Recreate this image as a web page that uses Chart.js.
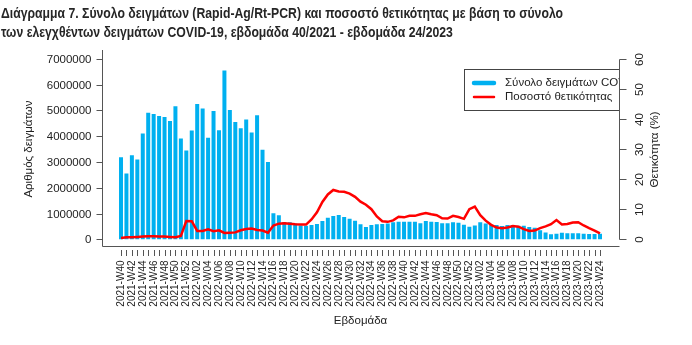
<!DOCTYPE html>
<html>
<head>
<meta charset="utf-8">
<script src="https://cdn.jsdelivr.net/npm/chart.js@4.4.1/dist/chart.umd.min.js"></script>
<style>
html,body{margin:0;padding:0;background:#fff;}
#wrap{width:692px;height:345px;position:relative;}
</style>
</head>
<body>
<div id="wrap"><canvas id="c"></canvas></div>
<script>
const titleLines = [
  "Διάγραμμα 7. Σύνολο δειγμάτων (Rapid-Ag/Rt-PCR) και ποσοστό θετικότητας με βάση το σύνολο",
  "των ελεγχθέντων δειγμάτων COVID-19, εβδομάδα 40/2021 - εβδομάδα 24/2023"
];
const weeks = [
  "2021-W40","2021-W41","2021-W42","2021-W43","2021-W44","2021-W45","2021-W46","2021-W47","2021-W48","2021-W49","2021-W50","2021-W51","2021-W52",
  "2022-W01","2022-W02","2022-W03","2022-W04","2022-W05","2022-W06","2022-W07","2022-W08","2022-W09","2022-W10","2022-W11","2022-W12","2022-W13",
  "2022-W14","2022-W15","2022-W16","2022-W17","2022-W18","2022-W19","2022-W20","2022-W21","2022-W22","2022-W23","2022-W24","2022-W25","2022-W26",
  "2022-W27","2022-W28","2022-W29","2022-W30","2022-W31","2022-W32","2022-W33","2022-W34","2022-W35","2022-W36","2022-W37","2022-W38","2022-W39",
  "2022-W40","2022-W41","2022-W42","2022-W43","2022-W44","2022-W45","2022-W46","2022-W47","2022-W48","2022-W49","2022-W50","2022-W51","2022-W52",
  "2023-W01","2023-W02","2023-W03","2023-W04","2023-W05","2023-W06","2023-W07","2023-W08","2023-W09","2023-W10","2023-W11","2023-W12","2023-W13",
  "2023-W14","2023-W15","2023-W16","2023-W17","2023-W18","2023-W19","2023-W20","2023-W21","2023-W22","2023-W23","2023-W24"
];
const samples = [
  3180000,2550000,3260000,3090000,4100000,4910000,4860000,4780000,4740000,4590000,5160000,3910000,3440000,
  4220000,5250000,5070000,3940000,4980000,4230000,6550000,5010000,4550000,4310000,4650000,4140000,4810000,
  3470000,3000000,1010000,930000,670000,660000,610000,540000,530000,550000,590000,710000,840000,
  900000,940000,860000,800000,720000,580000,480000,550000,580000,590000,610000,660000,680000,
  680000,680000,680000,620000,710000,680000,670000,620000,620000,660000,640000,560000,490000,
  540000,660000,610000,560000,550000,520000,550000,550000,530000,530000,480000,450000,350000,
  260000,200000,220000,250000,230000,230000,230000,220000,210000,210000,220000
];
const positivity = [
  0.4,0.7,0.7,0.8,0.9,1.0,1.0,0.9,0.9,0.8,0.7,1.1,6.1,
  6.0,2.8,2.8,3.3,2.7,3.0,2.1,2.2,2.3,3.0,3.4,3.6,3.1,
  2.9,2.2,4.6,5.2,5.3,5.2,5.0,4.9,4.9,6.6,9.0,12.4,14.9,
  16.4,15.9,15.8,15.2,14.1,12.5,11.5,10.0,7.6,6.0,5.8,6.3,7.5,
  7.3,7.8,7.8,8.3,8.7,8.3,8.0,7.0,6.9,7.8,7.4,6.8,10.0,
  10.9,8.0,6.2,4.8,3.9,3.7,3.9,4.4,4.2,3.4,2.8,2.9,3.7,
  4.3,5.0,6.4,4.9,5.1,5.6,5.7,4.6,3.7,2.9,2.0
];
const leftTicks = [0,1000000,2000000,3000000,4000000,5000000,6000000,7000000];
const rightTicks = [0,10,20,30,40,50,60];
const legendLabels = ["Σύνολο δειγμάτων COVID-19","Ποσοστό θετικότητας"];
const leftTitle = "Αριθμός δειγμάτων";
const rightTitle = "Θετικότητα (%)";
const xTitle = "Εβδομάδα";

const BLUE = '#00b0f0';
const RED = '#ff0000';
const AXIS = '#555555';
const TXT = '#222222';
const FONT = '"Liberation Sans", Arial, Helvetica, sans-serif';

const rStyle = {
  id: 'rStyle',
  afterDraw(chart) {
    const {ctx, chartArea: a, scales} = chart;
    const sx = scales.x, sy = scales.y, sy2 = scales.y2;
    ctx.save();

    // Title: bold, horizontally condensed to the reference width
    ctx.fillStyle = '#262626';
    ctx.textAlign = 'left';
    ctx.textBaseline = 'alphabetic';
    ctx.font = 'bold 14px "Liberation Sans", Arial, sans-serif';
    const w0 = ctx.measureText(titleLines[0]).width;
    const k = Math.min(1, 562 / w0);
    ctx.save();
    ctx.translate(1, 0);
    ctx.scale(k, 1);
    titleLines.forEach((t, j) => ctx.fillText(t, 0, 18 + j * 19));
    ctx.restore();

    // L-shaped frame
    ctx.strokeStyle = AXIS;
    ctx.lineWidth = 1;
    const L = Math.round(a.left) + 0.5, B = Math.round(a.bottom) + 0.5, R = Math.round(a.right) + 0.5;
    ctx.beginPath();
    ctx.moveTo(L, a.top);
    ctx.lineTo(L, B);
    ctx.lineTo(R, B);
    ctx.stroke();

    // Left axis ticks + labels
    ctx.fillStyle = TXT;
    ctx.font = '11.5px ' + FONT;
    ctx.textAlign = 'right';
    ctx.textBaseline = 'middle';
    leftTicks.forEach(v => {
      const py = Math.round(sy.getPixelForValue(v)) + 0.5;
      ctx.beginPath(); ctx.moveTo(L - 6, py); ctx.lineTo(L, py); ctx.stroke();
      ctx.fillText(String(v), L - 11, py);
    });
    const midY = (sy.getPixelForValue(leftTicks[0]) + sy.getPixelForValue(leftTicks[leftTicks.length - 1])) / 2;
    ctx.save();
    ctx.translate(29, midY);
    ctx.rotate(-Math.PI / 2);
    ctx.textAlign = 'center';
    ctx.fillText(leftTitle, 0, 0);
    ctx.restore();

    // Right axis
    const p0 = Math.round(sy2.getPixelForValue(rightTicks[0])) + 0.5;
    const p1 = Math.round(sy2.getPixelForValue(rightTicks[rightTicks.length - 1])) + 0.5;
    ctx.beginPath(); ctx.moveTo(R, p0); ctx.lineTo(R, p1); ctx.stroke();
    rightTicks.forEach(v => {
      const py = Math.round(sy2.getPixelForValue(v)) + 0.5;
      ctx.beginPath(); ctx.moveTo(R, py); ctx.lineTo(R + 7, py); ctx.stroke();
      ctx.save();
      ctx.translate(R + 20, py);
      ctx.rotate(-Math.PI / 2);
      ctx.textAlign = 'center';
      ctx.fillText(String(v), 0, 0);
      ctx.restore();
    });
    ctx.save();
    ctx.translate(R + 35, (p0 + p1) / 2);
    ctx.rotate(-Math.PI / 2);
    ctx.textAlign = 'center';
    ctx.fillText(rightTitle, 0, 0);
    ctx.restore();

    // Bottom ticks + rotated labels
    ctx.font = '10px ' + FONT;
    weeks.forEach((lab, i) => {
      const px = Math.round(sx.getPixelForValue(i)) + 0.5;
      ctx.beginPath(); ctx.moveTo(px, B + 3.5); ctx.lineTo(px, B + 9.5); ctx.stroke();
      if (i % 2 === 0) {
        ctx.save();
        ctx.translate(px, B + 14);
        ctx.rotate(-Math.PI / 2);
        ctx.textAlign = 'right';
        ctx.textBaseline = 'middle';
        ctx.fillText(lab, 0, 0);
        ctx.restore();
      }
    });
    ctx.font = '11.5px ' + FONT;
    ctx.textAlign = 'center';
    ctx.textBaseline = 'middle';
    ctx.fillText(xTitle, (a.left + a.right) / 2, 321);

    // Legend (clipped to plot region)
    ctx.save();
    ctx.beginPath();
    ctx.rect(a.left, a.top - 10, a.right - a.left, a.bottom - a.top + 10);
    ctx.clip();
    ctx.fillStyle = '#ffffff';
    ctx.fillRect(464.5, 69.5, 200, 41);
    ctx.strokeStyle = '#444';
    ctx.strokeRect(464.5, 69.5, 200, 41);
    ctx.lineCap = 'round';
    ctx.strokeStyle = BLUE; ctx.lineWidth = 4.5;
    ctx.beginPath(); ctx.moveTo(474, 83); ctx.lineTo(494, 83); ctx.stroke();
    ctx.strokeStyle = RED; ctx.lineWidth = 2.5;
    ctx.beginPath(); ctx.moveTo(474, 97); ctx.lineTo(494, 97); ctx.stroke();
    ctx.fillStyle = TXT;
    ctx.font = '11.5px ' + FONT;
    ctx.textAlign = 'left';
    ctx.textBaseline = 'middle';
    ctx.fillText(legendLabels[0], 505, 83);
    ctx.fillText(legendLabels[1], 505, 97);
    ctx.restore();

    ctx.restore();
  }
};

new Chart(document.getElementById('c'), {
  data: {
    datasets: [
      {
        type: 'line',
        label: legendLabels[1],
        data: positivity.map((v, i) => ({x: i, y: v})),
        yAxisID: 'y2',
        borderColor: RED,
        borderWidth: 2.5,
        pointRadius: 0,
        tension: 0,
        order: 0
      },
      {
        type: 'bar',
        label: legendLabels[0],
        data: samples.map((v, i) => ({x: i, y: v})),
        yAxisID: 'y',
        backgroundColor: BLUE,
        borderWidth: 0,
        inflateAmount: 0,
        barThickness: 4,
        order: 1
      }
    ]
  },
  options: {
    responsive: true,
    maintainAspectRatio: false,
    animation: false,
    layout: {padding: {left: 102, right: 73, top: 50, bottom: 99.5}},
    plugins: {legend: {display: false}, title: {display: false}, tooltip: {enabled: false}},
    scales: {
      x: {type: 'linear', offset: false, min: -3.49, max: 91.49, display: false},
      y: {type: 'linear', min: -240400, max: 7341000, display: false},
      y2: {type: 'linear', position: 'right', min: -2.06, max: 62.925, display: false}
    }
  },
  plugins: [rStyle]
});
</script>
</body>
</html>
